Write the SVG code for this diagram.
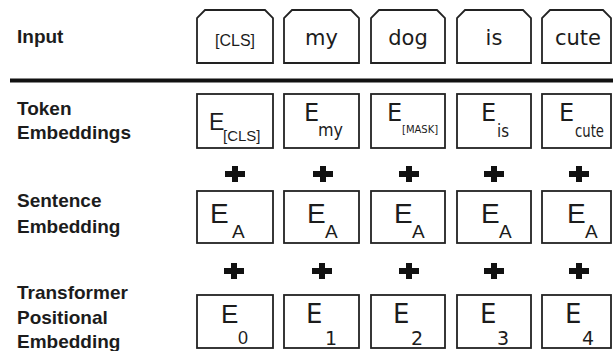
<svg xmlns="http://www.w3.org/2000/svg" width="613" height="351" viewBox="0 0 613 351">
<defs>
<style>
.bg{fill:#ffffff}
.box{fill:#ffffff;stroke:#222222;stroke-width:1.8}
.lbl{font-family:"Liberation Sans",Arial,sans-serif;font-weight:bold;font-size:19px;fill:#1c1c1c}
.a{font-family:"Liberation Sans",Arial,sans-serif;fill:#1c1c1c}
.v{font-family:"DejaVu Sans",Verdana,sans-serif;fill:#1c1c1c}
.plus{fill:#111111}
</style>
<path id="plus" d="M-10,-3 H-3 V-8 H3 V-3 H10 V3 H3 V8 H-3 V3 H-10 Z"/>
</defs>
<rect class="bg" x="0" y="0" width="613" height="351"/>

<g id="labels">
<text class="lbl" x="17" y="43">Input</text>
<text class="lbl" x="17" y="115">Token</text>
<text class="lbl" x="17" y="139">Embeddings</text>
<text class="lbl" x="17" y="207">Sentence</text>
<text class="lbl" x="17" y="233">Embedding</text>
<text class="lbl" x="17" y="299">Transformer</text>
<text class="lbl" x="17" y="324">Positional</text>
<text class="lbl" x="17" y="348">Embedding</text>
</g>

<g id="separator">
<line x1="10" y1="80.5" x2="613" y2="80.5" stroke="#111111" stroke-width="4"/>
</g>

<!-- Input row -->
<g id="input-cls">
<path class="box" d="M197,63 V18 L205,10 H265 L273,18 V63 Z"/>
<text class="a" x="235" y="46" font-size="16" text-anchor="middle">[CLS]</text>
</g>
<g id="input-my">
<path class="box" d="M284,63 V18 L292,10 H351 L359,18 V63 Z"/>
<text class="v" x="321.5" y="45" font-size="21" text-anchor="middle">my</text>
</g>
<g id="input-dog">
<path class="box" d="M371,63 V18 L379,10 H437 L445,18 V63 Z"/>
<text class="v" x="408" y="45" font-size="21" text-anchor="middle">dog</text>
</g>
<g id="input-is">
<path class="box" d="M457,63 V18 L465,10 H523 L531,18 V63 Z"/>
<text class="v" x="494" y="45" font-size="21" text-anchor="middle">is</text>
</g>
<g id="input-cute">
<path class="box" d="M542,63 V18 L550,10 H603 L611,18 V63 Z"/>
<text class="v" x="578" y="45" font-size="21" text-anchor="middle">cute</text>
</g>

<!-- Token embeddings -->
<g id="tok-cls">
<rect class="box" x="197" y="94" width="76" height="54"/>
<text class="a" x="209" y="130" font-size="23">E<tspan x="223" y="141" font-size="15">[CLS]</tspan></text>
</g>
<g id="tok-my">
<rect class="box" x="284" y="94" width="75" height="54"/>
<text class="v" x="304" y="121" font-size="24">E</text>
<text class="v" x="318" y="136" font-size="18" textLength="25" lengthAdjust="spacingAndGlyphs">my</text>
</g>
<g id="tok-mask">
<rect class="box" x="371" y="94" width="74" height="54"/>
<text class="v" x="387" y="121" font-size="24">E<tspan x="402" y="133" font-size="10">[MASK]</tspan></text>
</g>
<g id="tok-is">
<rect class="box" x="457" y="94" width="74" height="54"/>
<text class="v" x="481" y="121" font-size="24">E</text>
<text class="v" x="497" y="137" font-size="18" textLength="12" lengthAdjust="spacingAndGlyphs">is</text>
</g>
<g id="tok-cute">
<rect class="box" x="542" y="94" width="69" height="54"/>
<text class="v" x="559" y="121" font-size="24">E</text>
<text class="v" x="575" y="137" font-size="18" textLength="29" lengthAdjust="spacingAndGlyphs">cute</text>
</g>

<!-- Plus signs -->
<g id="plus-row1" class="plus">
<use href="#plus" x="235" y="174"/>
<use href="#plus" x="323" y="174"/>
<use href="#plus" x="409" y="174"/>
<use href="#plus" x="494" y="174"/>
<use href="#plus" x="579" y="174"/>
</g>
<g id="plus-row2" class="plus">
<use href="#plus" x="234" y="271"/>
<use href="#plus" x="322" y="271"/>
<use href="#plus" x="409" y="271"/>
<use href="#plus" x="494" y="271"/>
<use href="#plus" x="579" y="271"/>
</g>

<!-- Sentence embedding -->
<g id="seg-1">
<rect class="box" x="197" y="191" width="76" height="52"/>
<text class="a" x="210" y="223" font-size="28">E<tspan x="232" y="238" font-size="19">A</tspan></text>
</g>
<g id="seg-2">
<rect class="box" x="284" y="191" width="75" height="52"/>
<text class="a" x="307" y="223" font-size="28">E<tspan x="325" y="238" font-size="19">A</tspan></text>
</g>
<g id="seg-3">
<rect class="box" x="371" y="191" width="74" height="52"/>
<text class="a" x="394" y="223" font-size="28">E<tspan x="412" y="238" font-size="19">A</tspan></text>
</g>
<g id="seg-4">
<rect class="box" x="457" y="191" width="74" height="52"/>
<text class="a" x="481" y="223" font-size="28">E<tspan x="499" y="238" font-size="19">A</tspan></text>
</g>
<g id="seg-5">
<rect class="box" x="542" y="191" width="69" height="52"/>
<text class="a" x="567" y="223" font-size="28">E<tspan x="585" y="238" font-size="19">A</tspan></text>
</g>

<!-- Positional embedding -->
<g id="pos-0">
<rect class="box" x="197" y="295" width="76" height="53"/>
<text class="a" x="221" y="323" font-size="26">E<tspan x="238" y="344" font-size="18">0</tspan></text>
</g>
<g id="pos-1">
<rect class="box" x="284" y="295" width="75" height="53"/>
<text class="v" x="306" y="323" font-size="26">E<tspan x="325" y="345" font-size="19">1</tspan></text>
</g>
<g id="pos-2">
<rect class="box" x="371" y="295" width="74" height="53"/>
<text class="v" x="393" y="323" font-size="26">E<tspan x="411" y="345" font-size="19">2</tspan></text>
</g>
<g id="pos-3">
<rect class="box" x="457" y="295" width="74" height="53"/>
<text class="v" x="480" y="323" font-size="26">E<tspan x="497" y="345" font-size="19">3</tspan></text>
</g>
<g id="pos-4">
<rect class="box" x="542" y="295" width="69" height="53"/>
<text class="v" x="565" y="323" font-size="26">E<tspan x="582" y="345" font-size="19">4</tspan></text>
</g>
</svg>
